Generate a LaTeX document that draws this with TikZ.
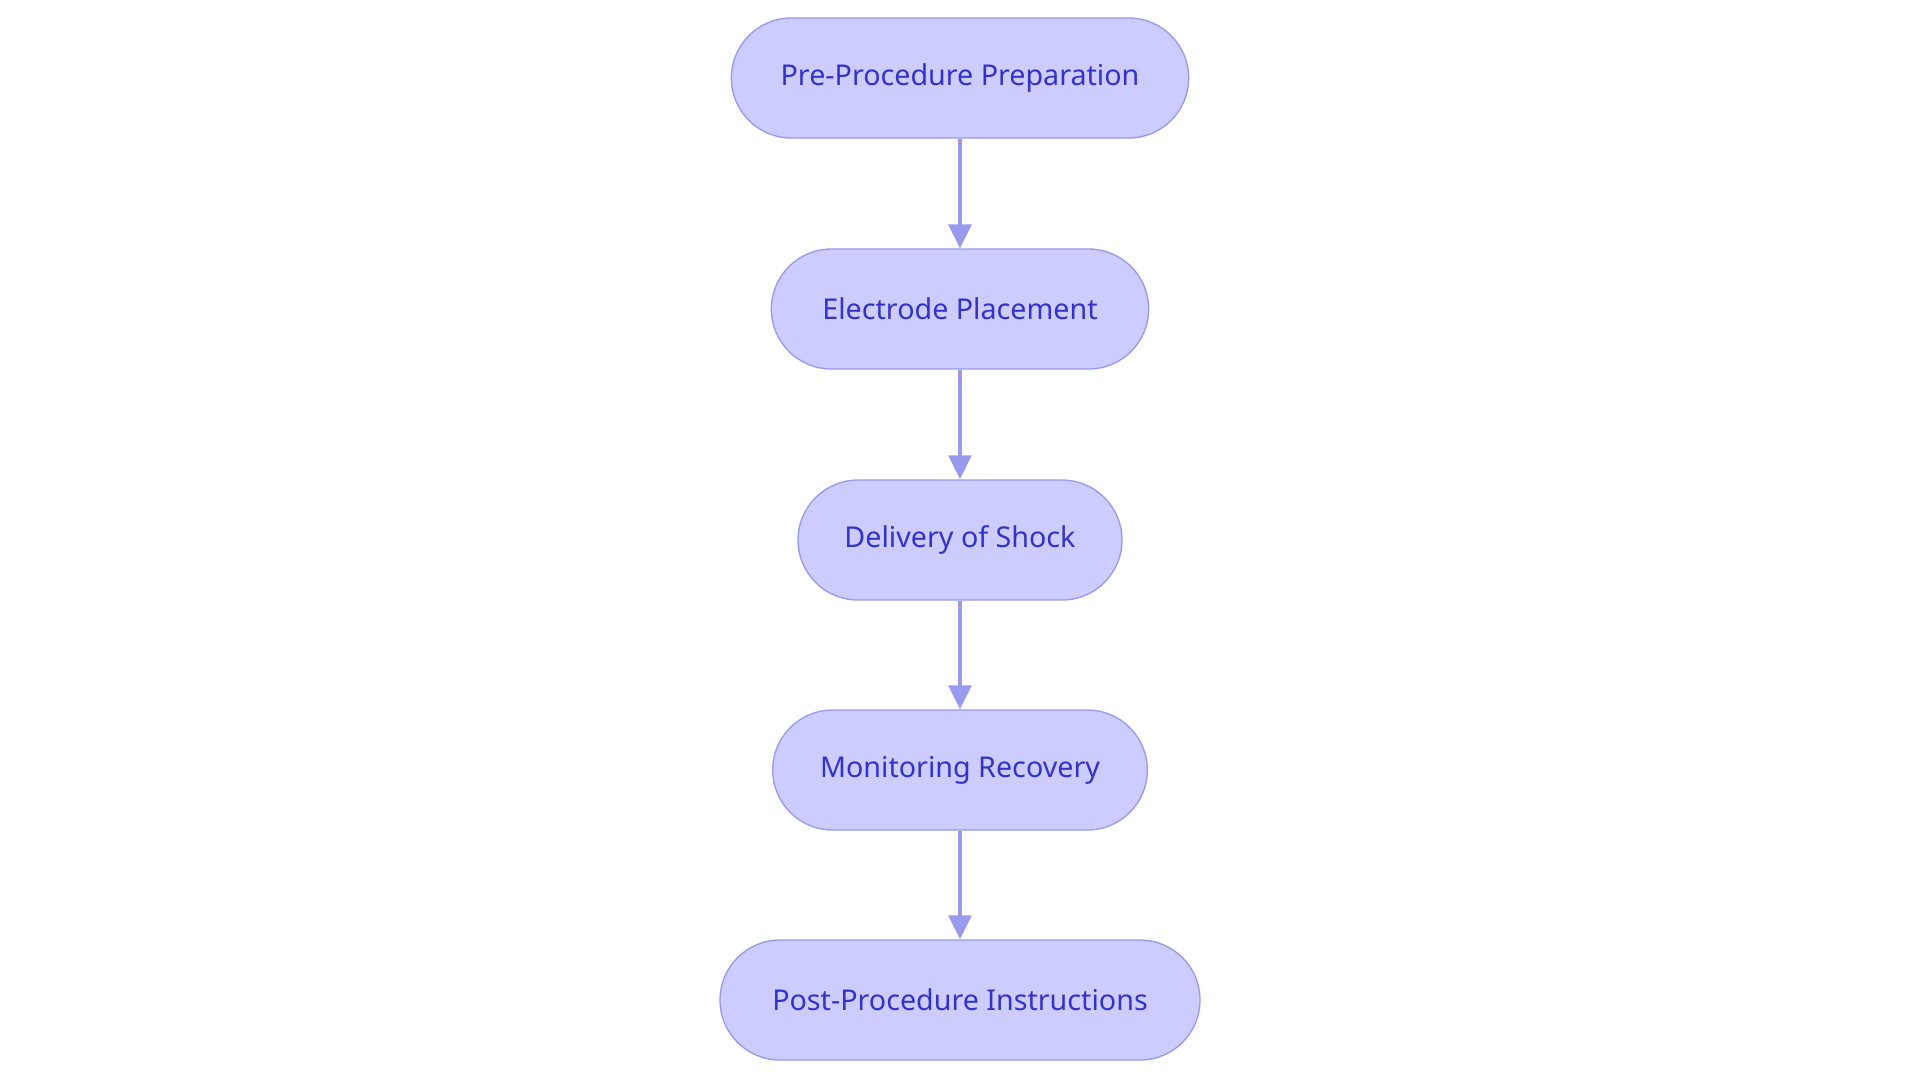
\documentclass[tikz,border=0pt]{standalone}
\usepackage{fontspec}
\setmainfont{Noto Sans}
\usetikzlibrary{arrows.meta}
\definecolor{fillc}{HTML}{CCCCFF}
\definecolor{linec}{HTML}{9999EE}
\definecolor{textc}{HTML}{3333CC}
\begin{document}
\begin{tikzpicture}[x=0.75pt,y=-0.75pt,
  box/.style={draw=linec,line width=1pt,fill=fillc,rounded corners=45pt,minimum height=90pt,text=textc,font=\fontsize{21.5}{25}\selectfont,inner sep=0pt},
  arr/.style={draw=linec,line width=3pt,-{Triangle[length=18pt,width=17pt]}}]
\useasboundingbox (0,0) rectangle (1920,1083);
\node[box,minimum width=343pt] (a) at (960,78) {Pre-Procedure Preparation};
\node[box,minimum width=283pt] (b) at (960,309) {Electrode Placement};
\node[box,minimum width=243pt] (c) at (960,540) {Delivery of Shock};
\node[box,minimum width=281pt] (d) at (960,770) {Monitoring Recovery};
\node[box,minimum width=360pt] (e) at (960,1000) {Post-Procedure Instructions};
\draw[arr] (a) -- (b);
\draw[arr] (b) -- (c);
\draw[arr] (c) -- (d);
\draw[arr] (d) -- (e);
\end{tikzpicture}
\end{document}
